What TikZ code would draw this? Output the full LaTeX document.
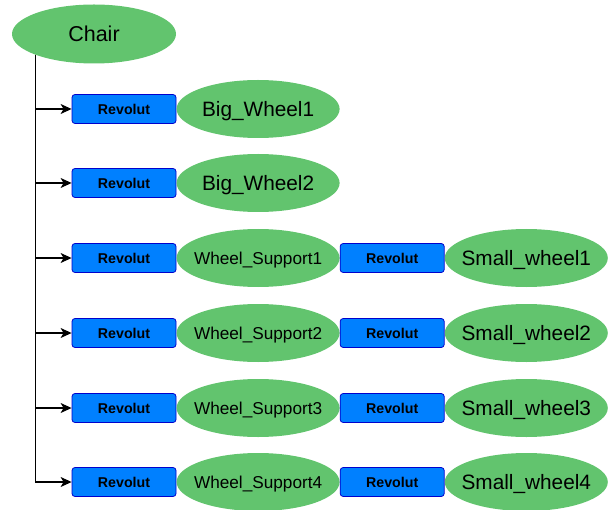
\documentclass[tikz,border=0pt]{standalone}
\usepackage{fontspec}
\setmainfont{Liberation Sans}
\usetikzlibrary{arrows.meta,shapes.geometric}
\definecolor{linkgreen}{RGB}{98,196,110}
\definecolor{jointblue}{RGB}{0,128,255}
\definecolor{jointedge}{RGB}{0,0,204}
\tikzset{
  % negative inner sep keeps every ellipse at its fixed size whatever its text;
  % zero text depth centres the capitals on the ellipse
  body/.style={ellipse, fill=linkgreen, inner sep=-40pt, minimum width=163pt, minimum height=58pt,
    text depth=0pt},
  joint/.style={rectangle, rounded corners=3pt, draw=jointedge, line width=0.8pt, fill=jointblue,
    minimum width=104pt, minimum height=29pt, inner sep=0pt, font=\fontsize{14.2}{16}\selectfont\bfseries},
  bigtext/.style={font=\fontsize{20.8}{24}\selectfont},
  midtext/.style={font=\fontsize{17.2}{20}\selectfont},
  link/.style={line width=1.2pt, -{Stealth[length=11pt,width=10pt,inset=3pt]}}
}
\begin{document}
\begin{tikzpicture}[x=1pt,y=-1pt]
\useasboundingbox (0,0) rectangle (609,510);
\node[body, minimum width=164pt, minimum height=59pt, font=\fontsize{21.5}{24}\selectfont] (chair) at (94,34) {Chair};

% first two rows: single wheels
\node[joint] (r1) at (124,109) {Revolut};
\node[body, bigtext, anchor=west] (bw1) at (r1.east) {Big\_Wheel1};
\node[joint] (r2) at (124,183) {Revolut};
\node[body, bigtext, anchor=west] (bw2) at (r2.east) {Big\_Wheel2};

% four support rows with small wheels
\foreach \i/\y in {3/258,4/333,5/408,6/482}{
  \pgfmathtruncatemacro{\k}{\i-2}
  \node[joint] (r\i) at (124,\y) {Revolut};
  \node[body, midtext, anchor=west] (ws\k) at (r\i.east) {Wheel\_Support\k};
  \node[joint, anchor=west] (rs\k) at (ws\k.east) {Revolut};
  \node[body, bigtext, anchor=west] (sw\k) at (rs\k.east) {Small\_wheel\k};
}

% trunk from the chair down to each joint
\foreach \i in {1,...,6}{
  \draw[link] (chair.south west) |- (r\i.west);
}
\end{tikzpicture}
\end{document}
